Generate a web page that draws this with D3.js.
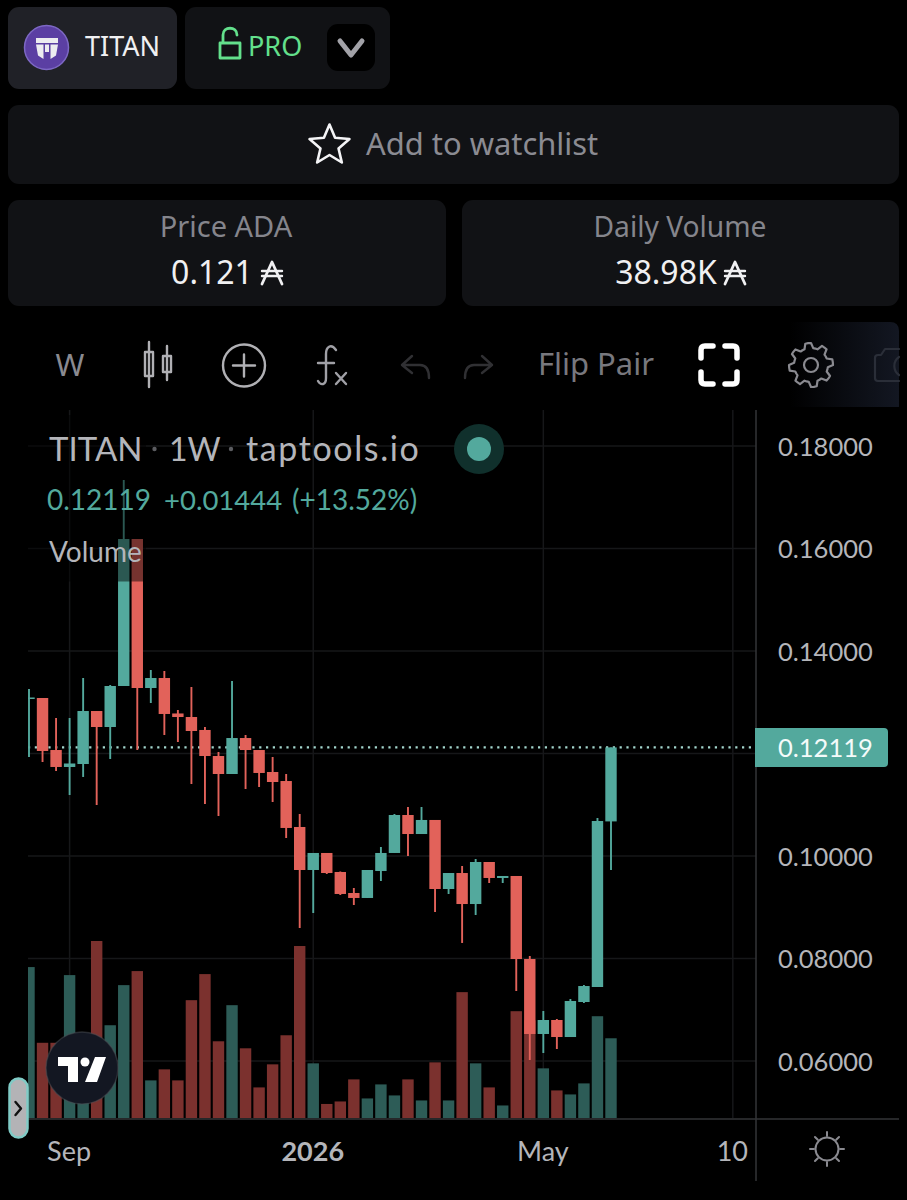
<!DOCTYPE html>
<html>
<head>
<meta charset="utf-8">
<script src="https://cdn.jsdelivr.net/npm/d3@7"></script>
<style>
html, body { margin: 0; padding: 0; background: #000; }
svg { display: block; }
.ui { font-family: "Noto Sans", sans-serif; }
.tv { font-family: "Lato", sans-serif; }
</style>
</head>
<body>
<div id="container"></div>
<script>
const UP_COLOR = '#53a99d'
const DOWN_COLOR = '#e2625a'
const UP_VOL = '#2d5c57'
const DOWN_VOL = '#7b312e'
const GRID_COLOR = '#161719'
const AXIS_COLOR = '#333437'
const LABEL_COLOR = '#b4b5ba'
const PANEL_COLOR = '#111215'

// weekly candles
var open = [.13073,.13083,.12068,.11737,.11795,.12829,.12517,.13317,.16185,.13278,.13473,.12781,.12712,.12459,.11951,.116,.12302,.12068,.11639,.11463,.10566,.09727,.10059,.09688,.09278,.09181,.09707,.10059,.108,.10429,.10703,.09356,.09668,.09063,.09883,.09571,.0961,.0799,.06527,.068,.06468,.07151,.07444,.10675]
var high = [.13259,.13083,.12693,.12693,.13473,.12829,.13337,.17337,.16185,.13629,.1361,.12849,.13298,.12517,.12029,.13415,.12361,.12068,.11932,.116,.1082,.10059,.10059,.09698,.09376,.09727,.10176,.1082,.10956,.10956,.10703,.09668,.09805,.09942,.09883,.0961,.0961,.08049,.06976,.0682,.0721,.07483,.10742,.12119]
var low = [.11932,.11834,.11659,.1119,.11542,.10995,.11893,.13317,.12068,.12985,.12361,.12224,.11405,.11015,.10781,.116,.11307,.11346,.11054,.10351,.08595,.08888,.09649,.09239,.09044,.09181,.09512,.10059,.1,.10429,.08907,.09259,.08303,.08849,.09473,.09473,.07366,.0602,.06156,.06234,.06468,.07132,.07444,.09727]
var close = [.13093,.12049,.11737,.11805,.12829,.12517,.13317,.16185,.13278,.13473,.12771,.12712,.12439,.11951,.116,.12302,.12068,.1162,.11444,.10547,.09727,.10059,.09668,.09259,.09181,.09727,.10059,.108,.10429,.10703,.09356,.09668,.09063,.09883,.09571,.0961,.0799,.06527,.068,.06468,.07171,.07463,.10683,.12119]
var volume = [301,150,150,285,135,353,185,265,293,75,97,75,235,287,153,225,139,61,107,165,343,109,28,33,77,39,67,45,77,35,111,35,251,109,61,25,213,195,99,55,47,69,203,159]

var price_ticks = [0.18, 0.16, 0.14, 0.12, 0.10, 0.08, 0.06]
var price_labels = [0.18, 0.16, 0.14, 0.10, 0.08, 0.06]
var last_price = 0.12119
var time_ticks = [3, 21, 38, 52]
var time_labels = ['Sep', '2026', 'May', '10']

var scene_width = 907
var scene_height = 1200
var svg = d3.select('#container').append('svg')
    .attr('width', scene_width)
    .attr('height', scene_height)
    .style('background', '#000')

var x = d3.scaleLinear().domain([0, 43]).range([29, 611])
var y = d3.scaleLinear().domain([0.18, 0.06]).range([446, 1061])
var y_vol = d3.scaleLinear().domain([0, 353]).range([1118, 941])

function panel(px, py, w, h, fill) {
    svg.append('rect').attr('x', px).attr('y', py).attr('width', w).attr('height', h)
        .attr('rx', 11).attr('fill', fill || PANEL_COLOR)
}

function label(txt, px, py, size, fill, anchor, cls) {
    return svg.append('text').attr('class', cls || 'ui').attr('x', px).attr('y', py)
        .attr('font-size', size).attr('fill', fill).attr('text-anchor', anchor || 'middle').text(txt)
}

function stroke_path(d, color, w) {
    return svg.append('path').attr('d', d).attr('fill', 'none').attr('stroke', color)
        .attr('stroke-width', w).attr('stroke-linecap', 'round').attr('stroke-linejoin', 'round')
}

// ada sign is drawn by hand so the glyph does not fall back
function ada_sign(px, py, color) {
    stroke_path(`M${px} ${py}L${px + 10} ${py - 22}L${px + 20} ${py}`, color, 2.8)
    stroke_path(`M${px} ${py - 13}H${px + 20}M${px} ${py - 8}H${px + 20}`, color, 2.4)
}

// ---- header ----
panel(8, 7, 169, 82, '#202127')
panel(185, 7, 205, 82)
panel(8, 105, 891, 79)
panel(8, 200, 438, 106)
panel(462, 200, 437, 106)

svg.append('circle').attr('cx', 46.5).attr('cy', 47.5).attr('r', 22).attr('fill', '#5b3fa3')
    .attr('stroke', '#7d68c4').attr('stroke-width', 1.5)
svg.append('path').attr('fill', '#ececf0')
    .attr('d', 'M36 38H58V43H36ZM36 44.5H43.5V59L38 55.5ZM58 44.5H50.5V59L56 55.5ZM45 44.5H49V52H45Z')
label('TITAN', 85, 55.5, 27, '#f0f0f2', 'start')

stroke_path('M220 43H240V58H220ZM223 43V35C223 26 237 26 237 35', '#63e08c', 2.8)
label('PRO', 248, 55.5, 27, '#63e08c', 'start')
svg.append('rect').attr('x', 327).attr('y', 24).attr('width', 48).attr('height', 47).attr('rx', 11).attr('fill', '#000')
stroke_path('M340 41L351 55L362 41', '#a2a2a8', 5)

var star_points = d3.range(10).map(function(i) {
    var r = i % 2 ? 9.5 : 21
    var a = i * Math.PI / 5
    return [329.5 + r * Math.sin(a), 145.5 - r * Math.cos(a)]
})
stroke_path('M' + star_points.join('L') + 'Z', '#f4f4f6', 2.6)
label('Add to watchlist', 366, 155, 30.9, '#8b8b92', 'start')

label('Price ADA', 226, 237, 29, '#85858c')
label('0.121', 212, 284, 32, '#f0f0f2')
ada_sign(262, 284, '#f0f0f2')
label('Daily Volume', 680, 237, 28.2, '#85858c')
label('38.98K', 666, 284, 32, '#f0f0f2')
ada_sign(725, 284, '#f0f0f2')

// ---- toolbar ----
var fade = svg.append('defs').append('linearGradient').attr('id', 'fade')
fade.append('stop').attr('offset', 0).attr('stop-color', '#000')
fade.append('stop').attr('offset', 1).attr('stop-color', '#131722')
svg.append('path').attr('d', 'M790 322H890Q899 322 899 331V407H790Z').attr('fill', 'url(#fade)')

label('W', 70, 376, 31, '#8a8a90')
stroke_path('M149 342V387M145 352H153V376H145ZM167 346V380M163 356H171V372H163Z', '#b0b0b4', 2.4)
svg.append('circle').attr('cx', 244).attr('cy', 365.5).attr('r', 21).attr('fill', 'none').attr('stroke', '#b0b0b4').attr('stroke-width', 2.4)
stroke_path('M233 365.5H255M244 354.5V376.5', '#b0b0b4', 2.4)
stroke_path('M336 350C331 343 326 347 326 354V378C326 385 321 386 318 381M318 363H334', '#a0a0a6', 2.4)
stroke_path('M336 373L346 384M346 373L336 384', '#a0a0a6', 2.4)
stroke_path('M412 356L402 365L412 373M402 365H420C427 365 429 370 429 378', '#303033', 2.4)
stroke_path('M482 356L492 365L482 373M492 365H474C467 365 465 370 465 378', '#303033', 2.4)
label('Flip Pair', 596, 375, 31, '#78787e')
stroke_path('M701 358V350Q701 346 705 346H713M725 346H733Q737 346 737 350V358M737 372V380Q737 384 733 384H725M713 384H705Q701 384 701 380V372', '#fff', 5.5)

var gear_points = d3.range(48).map(function(i) {
    var a = i / 48 * 2 * Math.PI
    var k = (i + 2) % 6
    var r = k < 3 ? 22 : 17
    return [811 + r * Math.sin(a), 365 - r * Math.cos(a)]
})
stroke_path('M' + gear_points.join('L') + 'Z', '#8a8a90', 2.2)
svg.append('circle').attr('cx', 811).attr('cy', 365).attr('r', 7).attr('fill', 'none').attr('stroke', '#8a8a90').attr('stroke-width', 2.2)
stroke_path('M899 349H885L881 355H878Q875 355 875 358V378Q875 381 878 381H899', '#2a2e38', 2.2)
stroke_path('M899 357A11 11 0 0 0 899 375', '#2a2e38', 2.2)

// ---- chart ----
svg.append('defs').append('clipPath').attr('id', 'plot')
    .append('rect').attr('x', 28).attr('y', 410).attr('width', 728).attr('height', 708)

var plot = svg.append('g').attr('clip-path', 'url(#plot)')

plot.selectAll('line.hgrid').data(price_ticks).enter().append('line')
    .attr('x1', 28).attr('x2', 756)
    .attr('y1', d => y(d)).attr('y2', d => y(d))
    .attr('stroke', GRID_COLOR).attr('stroke-width', 1.5)
plot.selectAll('line.vgrid').data(time_ticks).enter().append('line')
    .attr('x1', d => x(d)).attr('x2', d => x(d))
    .attr('y1', 410).attr('y2', 1118)
    .attr('stroke', GRID_COLOR).attr('stroke-width', 1.5)

var BAR_W = 11.4

plot.selectAll('rect.vol').data(volume).enter().append('rect')
    .attr('x', (d, i) => x(i) - BAR_W / 2)
    .attr('width', BAR_W)
    .attr('y', d => y_vol(d))
    .attr('height', d => y_vol(0) - y_vol(d))
    .attr('fill', (d, i) => close[i] >= open[i] ? UP_VOL : DOWN_VOL)

plot.append('line').attr('x1', 28).attr('x2', 756)
    .attr('y1', y(last_price)).attr('y2', y(last_price))
    .attr('stroke', '#a3d6cd').attr('stroke-width', 2.2).attr('stroke-dasharray', '2.2 4.6')

plot.selectAll('line.wick').data(high).enter().append('line')
    .attr('x1', (d, i) => x(i)).attr('x2', (d, i) => x(i))
    .attr('y1', d => y(d)).attr('y2', (d, i) => y(low[i]))
    .attr('stroke', (d, i) => close[i] >= open[i] ? UP_COLOR : DOWN_COLOR)
    .attr('stroke-width', 1.9)

plot.selectAll('rect.body').data(open).enter().append('rect')
    .attr('x', (d, i) => x(i) - BAR_W / 2)
    .attr('width', BAR_W)
    .attr('y', (d, i) => y(Math.max(d, close[i])))
    .attr('height', (d, i) => Math.max(1.5, Math.abs(y(d) - y(close[i]))))
    .attr('fill', (d, i) => close[i] >= open[i] ? UP_COLOR : DOWN_COLOR)

// legend sits on a see-through black plate that dims the tall candle
svg.append('rect').attr('x', 28).attr('y', 415).attr('width', 118).attr('height', 166.5)
    .attr('fill', '#000').attr('opacity', 0.48)

label('TITAN', 49, 461, 33, LABEL_COLOR, 'start', 'tv')
svg.append('circle').attr('cx', 154.5).attr('cy', 449).attr('r', 2.2).attr('fill', '#5c5d61')
label('1W', 169, 461, 32, LABEL_COLOR, 'start', 'tv')
svg.append('circle').attr('cx', 231).attr('cy', 449).attr('r', 2.2).attr('fill', '#5c5d61')
label('taptools.io', 246, 461, 34, LABEL_COLOR, 'start', 'tv').attr('letter-spacing', 1.6)
svg.append('circle').attr('cx', 479).attr('cy', 449).attr('r', 25).attr('fill', '#10302c')
svg.append('circle').attr('cx', 479).attr('cy', 449).attr('r', 12).attr('fill', UP_COLOR)

label('0.12119', 47, 509.5, 28, UP_COLOR, 'start', 'tv')
label('+0.01444', 164, 509.5, 27.5, UP_COLOR, 'start', 'tv')
label('(+13.52%)', 292, 509.5, 28, UP_COLOR, 'start', 'tv')
label('Volume', 49, 562, 28, LABEL_COLOR, 'start', 'tv')

// scale lines
svg.append('line').attr('x1', 756).attr('x2', 756).attr('y1', 410).attr('y2', 1181)
    .attr('stroke', AXIS_COLOR).attr('stroke-width', 1.5)
svg.append('line').attr('x1', 28).attr('x2', 899).attr('y1', 1119).attr('y2', 1119)
    .attr('stroke', AXIS_COLOR).attr('stroke-width', 1.5)

var y_axis = d3.axisRight(y).tickValues(price_labels).tickSize(0).tickPadding(0)
    .tickFormat(d3.format('.5f'))
svg.append('g').attr('class', 'tv').attr('transform', 'translate(778,1)').call(y_axis)
    .call(g => g.select('.domain').remove())
    .selectAll('text').attr('font-size', 25.5).attr('font-family', 'Lato').attr('fill', LABEL_COLOR)

var x_axis = d3.axisBottom(x).tickValues(time_ticks).tickSize(0).tickPadding(0)
    .tickFormat((d, i) => time_labels[i])
svg.append('g').attr('class', 'tv').attr('transform', 'translate(-1,1142)').call(x_axis)
    .call(g => g.select('.domain').remove())
    .selectAll('text').attr('font-size', 27).attr('font-family', 'Lato').attr('fill', LABEL_COLOR)
    .attr('font-weight', d => d === 21 ? 'bold' : 'normal')

// last price tag
svg.append('path').attr('d', 'M755 728H884Q888 728 888 732V763Q888 767 884 767H755Z').attr('fill', UP_COLOR)
label(d3.format('.5f')(last_price), 778, 757, 25.5, '#f4fbfa', 'start', 'tv')

// ---- overlays ----
svg.append('circle').attr('cx', 82).attr('cy', 1068).attr('r', 36).attr('fill', '#131722')
    .attr('stroke', '#4b4f55').attr('stroke-opacity', 0.5).attr('stroke-width', 1.5)
svg.append('path').attr('fill', '#fff')
    .attr('d', 'M58 1057H78V1082H68V1066H58ZM95 1057H106L97 1082H85Z')
svg.append('circle').attr('cx', 85).attr('cy', 1062).attr('r', 4.5).attr('fill', '#fff')

svg.append('rect').attr('x', 9.5).attr('y', 1078.5).attr('width', 18).attr('height', 59).attr('rx', 9)
    .attr('fill', '#b3b3b6').attr('stroke', '#80cbc6').attr('stroke-width', 2.5)
stroke_path('M15.5 1102L21 1108.5L15.5 1115', '#111', 2.4)

var rays = d3.range(8).map(function(i) {
    var a = i * Math.PI / 4
    return `M${827 + 13 * Math.sin(a)} ${1149 - 13 * Math.cos(a)}L${827 + 17 * Math.sin(a)} ${1149 - 17 * Math.cos(a)}`
}).join('')
svg.append('circle').attr('cx', 827).attr('cy', 1149).attr('r', 11.5).attr('fill', 'none').attr('stroke', '#8a8a90').attr('stroke-width', 2)
stroke_path(rays, '#8a8a90', 2)
</script>
</body>
</html>
